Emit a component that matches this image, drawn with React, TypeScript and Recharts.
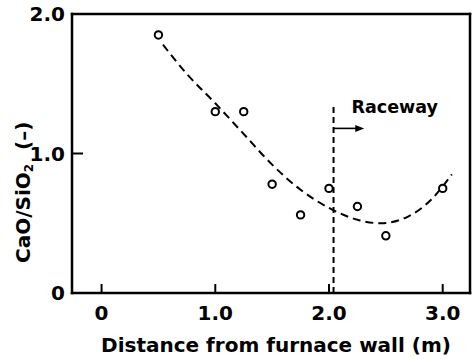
import React from "react";
import {
  ComposedChart,
  XAxis,
  YAxis,
  Line,
  Scatter,
  ReferenceLine,
} from "recharts";

const measuredX = [0.5, 1.0, 1.25, 1.5, 1.75, 2.0, 2.25, 2.5, 3.0];
const measuredY = [1.85, 1.3, 1.3, 0.78, 0.56, 0.75, 0.62, 0.41, 0.75];

const curveX = [0.54, 0.75, 1.0, 1.25, 1.5, 1.75, 2.0, 2.25, 2.45, 2.7, 2.9, 3.08];
const curveY = [1.78, 1.57, 1.36, 1.14, 0.92, 0.74, 0.61, 0.525, 0.5, 0.55, 0.67, 0.85];

const xTicks = [0, 1, 2, 3];
const yTicks = [0, 1, 2];
const xDomain: [number, number] = [-0.26, 3.24];
const yDomain: [number, number] = [0, 2];

const racewayX = 2.04;
const racewayTop = 1.35;
const arrowY = 1.18;
const arrowEnd = 2.31;

const xTickLen = 0.057;
const yTickLen = 0.088;

const measured = measuredX.map((x, i) => ({ x, y: measuredY[i] }));
const curve = curveX.map((x, i) => ({ x, y: curveY[i] }));

const FONT = "'DejaVu Sans', sans-serif";

const fmt = (v: number) => (v === 0 ? "0" : v.toFixed(1));

const XTick = (props: any) => {
  const { x, y, payload } = props;
  return (
    <text
      x={x}
      y={y + 25}
      textAnchor="middle"
      fontFamily={FONT}
      fontWeight="bold"
      fontSize={20}
      fill="#000"
    >
      {fmt(payload.value)}
    </text>
  );
};

const YTick = (props: any) => {
  const { x, y, payload } = props;
  return (
    <text
      x={x - 5}
      y={y + 7}
      textAnchor="end"
      fontFamily={FONT}
      fontWeight="bold"
      fontSize={20}
      fill="#000"
    >
      {fmt(payload.value)}
    </text>
  );
};

const Marker = (props: any) => {
  const { cx, cy } = props;
  return <circle cx={cx} cy={cy} r={3.7} fill="#fff" stroke="#000" strokeWidth={2} />;
};

const SolidSeg = (props: any) => {
  const { x1, y1, x2, y2, sw } = props;
  return <line x1={x1} y1={y1} x2={x2} y2={y2} stroke="#000" strokeWidth={sw || 2.5} strokeLinecap="square" />;
};

const ArrowShape = (props: any) => {
  const { x1, y1, x2, y2 } = props;
  return (
    <g>
      <line x1={x1} y1={y1} x2={x2 - 6} y2={y2} stroke="#000" strokeWidth={1.6} />
      <polygon points={`${x2},${y2} ${x2 - 9},${y2 - 3.5} ${x2 - 9},${y2 + 3.5}`} fill="#000" />
      <text
        x={x1 + 18}
        y={y1 - 15}
        fontFamily={FONT}
        fontWeight="bold"
        fontSize={17.5}
        fill="#000"
      >
        Raceway
      </text>
    </g>
  );
};

const YLabel = () => (
  <text
    x={30}
    y={263}
    transform="rotate(-90, 30, 263)"
    fontFamily={FONT}
    fontWeight="bold"
    fontSize={20}
    fill="#000"
  >
    <tspan>CaO/SiO</tspan>
    <tspan fontSize={12} dy={3}>2</tspan>
    <tspan dy={-3} dx={14}>(–)</tspan>
  </text>
);

const XLabel = () => (
  <text
    x={276}
    y={352}
    textAnchor="middle"
    fontFamily={FONT}
    fontWeight="bold"
    fontSize={20}
    fill="#000"
  >
    Distance from furnace wall (m)
  </text>
);

const [x0, x1] = xDomain;
const [y0, y1] = yDomain;
const frame = [
  [{ x: x0, y: y0 }, { x: x1, y: y0 }],
  [{ x: x0, y: y1 }, { x: x1, y: y1 }],
  [{ x: x0, y: y0 }, { x: x0, y: y1 }],
  [{ x: x1, y: y0 }, { x: x1, y: y1 }],
];

export default function App() {
  return (
    <div style={{ position: "absolute", left: 0, top: 0 }}>
      <ComposedChart
        width={472}
        height={359}
        data={measured}
        margin={{ top: 14, right: 2, left: 0, bottom: 0 }}
      >
        <XAxis
          type="number"
          dataKey="x"
          domain={xDomain}
          ticks={xTicks}
          height={66}
          tickSize={0}
          axisLine={false}
          tickLine={false}
          tick={<XTick />}
          label={<XLabel />}
        />
        <YAxis
          type="number"
          domain={yDomain}
          ticks={yTicks}
          width={72}
          tickSize={0}
          axisLine={false}
          tickLine={false}
          tick={<YTick />}
          label={<YLabel />}
        />
        {frame.map((seg, i) => (
          <ReferenceLine key={`f${i}`} segment={seg} ifOverflow="visible" shape={<SolidSeg />} />
        ))}
        {xTicks.map((t) => (
          <ReferenceLine
            key={`xt${t}`}
            segment={[
              { x: t, y: y0 },
              { x: t, y: y0 + xTickLen },
            ]}
            ifOverflow="visible"
            shape={<SolidSeg sw={2} />}
          />
        ))}
        {yTicks.map((t) => (
          <ReferenceLine
            key={`yt${t}`}
            segment={[
              { x: x0, y: t },
              { x: x0 + yTickLen, y: t },
            ]}
            ifOverflow="visible"
            shape={<SolidSeg sw={2} />}
          />
        ))}
        <ReferenceLine
          segment={[
            { x: racewayX, y: 0 },
            { x: racewayX, y: racewayTop },
          ]}
          stroke="#000"
          strokeWidth={2}
          strokeDasharray="6 4"
        />
        <ReferenceLine
          segment={[
            { x: racewayX, y: arrowY },
            { x: arrowEnd, y: arrowY },
          ]}
          shape={<ArrowShape />}
        />
        <Line
          data={curve}
          dataKey="y"
          type="monotone"
          stroke="#000"
          strokeWidth={2}
          strokeDasharray="8 5"
          dot={false}
          activeDot={false}
          isAnimationActive={false}
        />
        <Scatter
          data={measured}
          dataKey="y"
          shape={<Marker />}
          isAnimationActive={false}
        />
      </ComposedChart>
    </div>
  );
}
